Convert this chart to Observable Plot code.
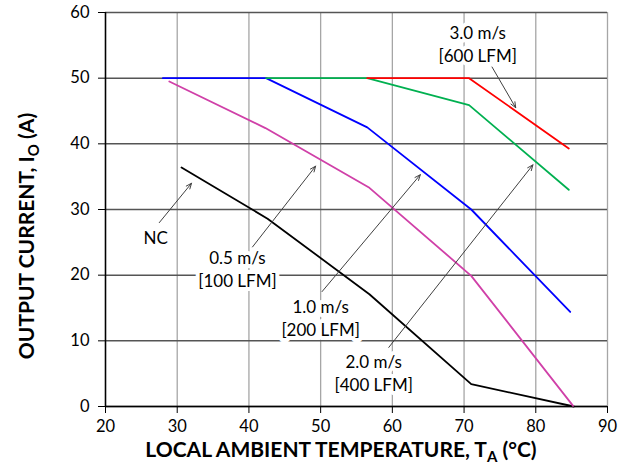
<!DOCTYPE html>
<html>
<head>
<meta charset="utf-8">
<script src="https://cdn.jsdelivr.net/npm/d3@7"></script>
<script src="https://cdn.jsdelivr.net/npm/@observablehq/plot@0.6"></script>
<style>
  html, body { margin: 0; padding: 0; background: white; }
</style>
</head>
<body>
<div id="chart"></div>
<script>
// ---- data ----
const xTicks = [20, 30, 40, 50, 60, 70, 80, 90];
const yTicks = [0, 10, 20, 30, 40, 50, 60];

const seriesNames = ["NC", "0.5 m/s", "1.0 m/s", "2.0 m/s", "3.0 m/s"];

const ncTemp  = [30.6, 42.6, 56.8, 71.0, 85.3];
const ncCurr  = [36.4, 28.6, 17.1, 3.4, 0.0];

const v05Temp = [28.9, 42.3, 56.8, 71.0, 85.2];
const v05Curr = [49.5, 42.4, 33.3, 19.9, 0.1];

const v10Temp = [28.0, 42.4, 56.5, 71.0, 84.8];
const v10Curr = [50.0, 50.0, 42.5, 30.0, 14.4];

const v20Temp = [42.4, 56.5, 70.7, 84.6];
const v20Curr = [50.0, 50.0, 45.9, 33.0];

const v30Temp = [56.5, 70.7, 84.6];
const v30Curr = [50.0, 50.0, 39.3];

// annotation labels and their anchor points (data units)
const annoText  = ["NC", "0.5 m/s\n[100 LFM]", "1.0 m/s\n[200 LFM]", "2.0 m/s\n[400 LFM]", "3.0 m/s\n[600 LFM]"];
const annoTemp  = [27.0, 38.4, 50.0, 57.4, 71.9];
const annoCurr  = [25.9, 21.0, 13.6, 5.3, 55.3];
const arrowT1   = [27.5, 40.5, 50.2, 59.5, 73.9];
const arrowI1   = [28.0, 24.3, 17.5, 9.0, 51.7];
const arrowT2   = [32.0, 49.3, 63.9, 79.6, 77.2];
const arrowI2   = [34.0, 36.6, 35.3, 36.8, 45.5];

// ---- build tables ----
const seriesData = [
  [ncTemp, ncCurr], [v05Temp, v05Curr], [v10Temp, v10Curr], [v20Temp, v20Curr], [v30Temp, v30Curr]
];
const rows = [];
seriesData.forEach(([T, I], k) => T.forEach((t, i) => rows.push({series: seriesNames[k], T: t, I: I[i]})));

const anno = annoText.map((s, i) => ({
  label: s, tx: annoTemp[i], ty: annoCurr[i],
  x1: arrowT1[i], y1: arrowI1[i], x2: arrowT2[i], y2: arrowI2[i]
}));

const seriesColors = ["#000000", "#d040a8", "#0000ff", "#00b050", "#ff0000"];
const FONT = "Lato, 'Open Sans', sans-serif";

const chart = Plot.plot({
  width: 633,
  height: 466,
  marginLeft: 105,
  marginRight: 26,
  marginTop: 12,
  marginBottom: 60,
  style: {fontFamily: FONT, fontSize: "16px", color: "#000", background: "white"},
  x: {domain: [20, 90]},
  y: {domain: [0, 60]},
  color: {domain: seriesNames, range: seriesColors},
  marks: [
    Plot.ruleX(xTicks, {stroke: "#a6a6a6", strokeWidth: 1.3}),
    Plot.ruleY(yTicks, {stroke: "#555555", strokeWidth: 1.5}),
    Plot.axisX({ticks: xTicks, tickSize: 7, tickPadding: 7, label: null, fontSize: 16.5, stroke: "#000"}),
    Plot.axisY({ticks: yTicks, tickSize: 7, tickPadding: 9, label: null, fontSize: 16.5, stroke: "#000"}),
    Plot.ruleX([20], {stroke: "#000", strokeWidth: 1.5}),
    Plot.ruleY([0], {stroke: "#000", strokeWidth: 1.5}),
    Plot.text(anno, {x: "tx", y: "ty", text: "label", fontSize: 17, lineHeight: 1.35,
      fill: "#000", stroke: "white", strokeWidth: 8, strokeLinejoin: "round"}),
    Plot.line(rows, {x: "T", y: "I", z: "series", stroke: "series", strokeWidth: 1.8}),
    Plot.arrow(anno, {x1: "x1", y1: "y1", x2: "x2", y2: "y2", stroke: "#404040",
      strokeWidth: 1, headLength: 9, headAngle: 45})
  ]
});

// Axis titles with subscripts
const svg = d3.select(chart);
const xt = svg.append("text")
  .attr("x", 341).attr("y", 457)
  .attr("text-anchor", "middle")
  .attr("font-family", FONT)
  .attr("font-weight", "bold").attr("font-size", 21).attr("fill", "#000");
xt.append("tspan").text("LOCAL AMBIENT TEMPERATURE, T");
xt.append("tspan").attr("font-size", 15).attr("dy", 5).text("A");
xt.append("tspan").attr("dy", -5).text(" (°C)");

const yt = svg.append("text")
  .attr("transform", "translate(34,236) rotate(-90)")
  .attr("text-anchor", "middle")
  .attr("font-family", FONT)
  .attr("font-weight", "bold").attr("font-size", 21).attr("fill", "#000");
yt.append("tspan").text("OUTPUT CURRENT, I");
yt.append("tspan").attr("font-size", 15).attr("dy", 5).text("O");
yt.append("tspan").attr("dy", -5).text(" (A)");

document.getElementById("chart").appendChild(chart);
</script>
</body>
</html>
